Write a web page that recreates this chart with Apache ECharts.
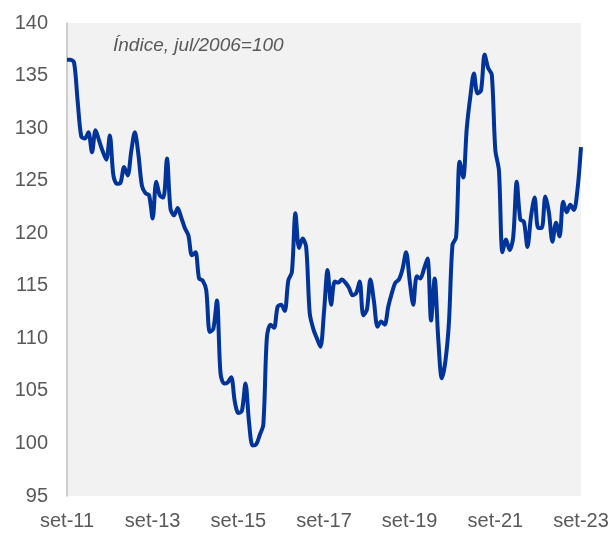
<!DOCTYPE html>
<html>
<head>
<meta charset="utf-8">
<script src="https://cdn.jsdelivr.net/npm/echarts@6/dist/echarts.min.js"></script>
<style>
  html, body { margin: 0; padding: 0; background: #fff; }
  #chart { width: 613px; height: 534px; }
</style>
</head>
<body>
<div id="chart"></div>
<script>
// meses (set/2011 a set/2023)
const monthNames = ['jan', 'fev', 'mar', 'abr', 'mai', 'jun', 'jul', 'ago', 'set', 'out', 'nov', 'dez'];
const categories = [];
for (let i = 0; i < 145; i++) {
  const m = (8 + i) % 12;
  const y = 11 + Math.floor((8 + i) / 12);
  categories.push(monthNames[m] + '-' + String(y).padStart(2, '0'));
}

// índice, jul/2006=100
const indexValues = [
  136.5, 136.5, 136.2, 132.5, 129.2, 129.0, 129.6, 127.7, 129.8, 128.8,
  127.8, 127.0, 129.3, 125.5, 124.7, 124.8, 126.3, 125.5, 127.8, 129.6,
  127.5, 124.5, 123.8, 123.6, 121.4, 124.9, 123.6, 123.4, 127.1, 122.3,
  121.7, 122.4, 121.5, 120.5, 119.8, 117.9, 118.2, 115.7, 115.5, 114.6,
  110.6, 110.9, 113.6, 106.7, 105.7, 105.8, 106.3, 104.0, 102.9, 103.1,
  105.7, 102.0, 99.8, 99.9, 100.8, 101.8, 110.1, 111.3, 111.0, 113.0,
  113.2, 112.6, 115.5, 116.3, 121.9, 118.6, 119.5, 118.7, 112.4, 110.9,
  110.0, 109.2, 112.5, 116.5, 113.2, 115.4, 115.3, 115.6, 115.3, 114.8,
  114.1, 114.3, 115.4, 112.2, 112.7, 115.6, 113.5, 111.1, 111.6, 111.3,
  113.0, 114.3, 115.3, 115.6, 116.6, 118.2, 115.5, 113.2, 115.9, 115.7,
  116.6, 117.6, 111.7, 115.7, 110.0, 106.2, 107.8, 111.5, 118.9, 119.6,
  126.8, 125.3, 130.0, 133.0, 135.2, 133.3, 133.6, 137.0, 135.7, 135.1,
  127.9, 126.0, 118.2, 119.4, 118.4, 119.6, 124.9, 121.3, 121.1, 118.7,
  121.6, 123.4, 120.5, 120.5, 123.5, 122.0, 119.2, 121.0, 119.7, 123.0,
  122.0, 122.7, 122.2, 124.1, 128.2
];

const yTicks = [95, 100, 105, 110, 115, 120, 125, 130, 135, 140];

const chart = echarts.init(document.getElementById('chart'));

chart.setOption({
  animation: false,
  textStyle: { fontFamily: 'Liberation Sans, Arial, sans-serif' },
  grid: {
    left: 67,
    right: 32,
    top: 23,
    bottom: 38,
    show: true,
    backgroundColor: '#f2f2f2',
    borderWidth: 0
  },
  graphic: [
    {
      type: 'text',
      left: 113,
      top: 36,
      style: {
        text: 'Índice, jul/2006=100',
        fill: '#595959',
        fontSize: 19,
        fontStyle: 'italic',
        fontFamily: 'Liberation Sans, Arial, sans-serif'
      }
    }
  ],
  xAxis: {
    type: 'category',
    data: categories,
    boundaryGap: false,
    axisLine: { show: false },
    axisTick: { show: false },
    splitLine: { show: false },
    axisLabel: {
      interval: 23,
      color: '#595959',
      fontSize: 20,
      margin: 15,
      showMaxLabel: true
    }
  },
  yAxis: {
    type: 'value',
    min: yTicks[0],
    max: yTicks[yTicks.length - 1],
    interval: 5,
    axisLine: { show: true, lineStyle: { color: '#bfbfbf', width: 1.5 } },
    axisTick: { show: false },
    splitLine: { show: false },
    axisLabel: {
      color: '#595959',
      fontSize: 20,
      margin: 19
    }
  },
  series: [
    {
      type: 'line',
      data: indexValues,
      smooth: 0.3,
      symbol: 'none',
      lineStyle: { color: '#00349a', width: 4 }
    }
  ]
});
</script>
</body>
</html>
